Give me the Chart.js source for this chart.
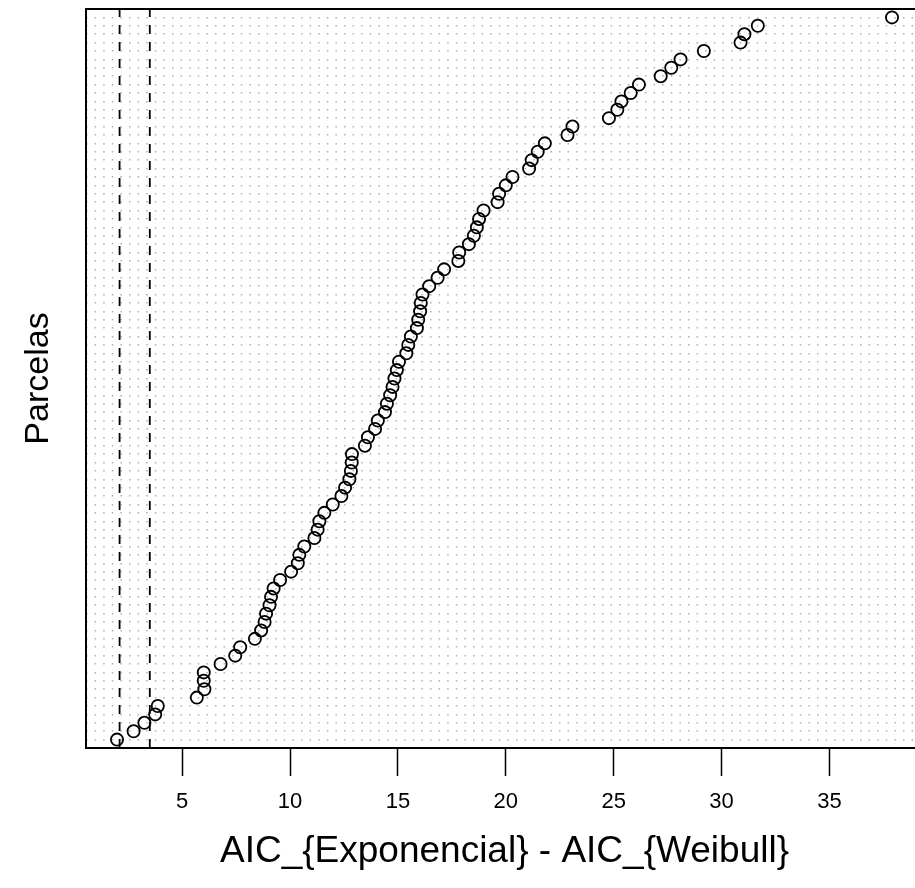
<!DOCTYPE html>
<html>
<head>
<meta charset="utf-8">
<script src="https://cdn.jsdelivr.net/npm/chart.js@4.4.1/dist/chart.umd.min.js"></script>
<style>
  html, body { margin: 0; padding: 0; background: #fff; overflow: hidden; }
  #wrap { width: 935px; height: 888px; }
</style>
</head>
<body>
<div id="wrap"><canvas id="dotchart" width="935" height="888"></canvas></div>
<script>
// sorted AIC differences, one per parcela (bottom to top)
const aicDiff = [
  1.98, 2.75, 3.25, 3.75, 3.87, 5.68, 6.03, 6.00, 6.00, 6.78,
  7.46, 7.69, 8.37, 8.66, 8.82, 8.89, 9.05, 9.12, 9.24, 9.54,
  10.05, 10.36, 10.43, 10.66, 11.13, 11.28, 11.36, 11.59, 11.98, 12.38,
  12.55, 12.75, 12.82, 12.86, 12.87, 13.47, 13.61, 13.94, 14.07, 14.40,
  14.49, 14.64, 14.75, 14.84, 14.95, 15.05, 15.39, 15.48, 15.60, 15.88,
  15.94, 16.03, 16.06, 16.14, 16.45, 16.84, 17.14, 17.80, 17.84, 18.29,
  18.52, 18.66, 18.76, 18.97, 19.62, 19.69, 20.00, 20.31, 21.08, 21.20,
  21.48, 21.81, 22.86, 23.09, 24.78, 25.17, 25.36, 25.79, 26.17, 27.18,
  27.67, 28.10, 29.18, 30.88, 31.06, 31.68, 37.90
];
const refLines = [2.1, 3.5];
const xTickValues = [5, 10, 15, 20, 25, 30, 35];
const xTitle = 'AIC_{Exponencial} - AIC_{Weibull}';
const yTitle = 'Parcelas';

const nRows = aicDiff.length;
const rowPositions = aicDiff.map((v, i) => i + 1);
const fontFamily = '"Liberation Sans", Arial, sans-serif';

// R dotchart style range: data range extended by 4%
const xMin = Math.min(...aicDiff), xMax = Math.max(...aicDiff);
const xPad = (xMax - xMin) * 0.04;

const boxPlugin = {
    id: 'box',
    afterDraw(chart) {
        const a = chart.chartArea;
        const c = chart.ctx;
        c.save();
        c.strokeStyle = '#000';
        c.lineWidth = 2;
        c.strokeRect(a.left, a.top, a.right - a.left, a.bottom - a.top);
        c.restore();
    }
};

const datasets = [{
    data: aicDiff.map((v, i) => ({ x: v, y: rowPositions[i] })),
    pointStyle: 'circle',
    pointRadius: 6.1,
    pointHoverRadius: 6.1,
    pointBorderWidth: 1.8,
    pointBorderColor: '#000',
    pointBackgroundColor: 'rgba(0,0,0,0)',
    showLine: false
}];
refLines.forEach(v => {
    datasets.push({
        data: [{ x: v, y: 0 }, { x: v, y: nRows + 1 }],
        showLine: true,
        borderColor: '#000',
        borderWidth: 1.8,
        borderDash: [9, 8],
        pointRadius: 0
    });
});

const ctx = document.getElementById('dotchart').getContext('2d');
const chart = new Chart(ctx, {
    type: 'scatter',
    data: { datasets: datasets },
    plugins: [boxPlugin],
    options: {
        responsive: false,
        animation: false,
        layout: { padding: { top: 9, right: 12, left: 0, bottom: 0 } },
        plugins: { legend: { display: false }, tooltip: { enabled: false } },
        scales: {
            x: {
                type: 'linear',
                min: xMin - xPad,
                max: xMax + xPad,
                afterBuildTicks: s => { s.ticks = xTickValues.map(v => ({ value: v })); },
                afterFit: s => { s.height = 140; },
                grid: { drawOnChartArea: false, drawTicks: true, tickLength: 28, tickColor: '#000', tickWidth: 1.5 },
                border: { display: false },
                ticks: {
                    autoSkip: false, maxRotation: 0, padding: 13, color: '#000',
                    font: { family: fontFamily, size: 22 }
                },
                title: {
                    display: true, text: xTitle, color: '#000',
                    font: { family: fontFamily, size: 37 },
                    padding: { top: 0, bottom: 14 }
                }
            },
            y: {
                type: 'linear',
                min: 0,
                max: nRows + 1,
                afterBuildTicks: s => { s.ticks = rowPositions.map(v => ({ value: v })); },
                afterFit: s => { s.width = 86; },
                grid: { color: '#b0b0b0', lineWidth: 1.5, drawTicks: false, borderDash: [1.5, 7.1] },
                border: { display: false, dash: [1.5, 7.1] },
                ticks: { display: false, autoSkip: false },
                title: {
                    display: true, text: yTitle, color: '#000',
                    font: { family: fontFamily, size: 34 },
                    padding: { top: 18, bottom: 0 }
                }
            }
        }
    }
});
</script>
</body>
</html>
